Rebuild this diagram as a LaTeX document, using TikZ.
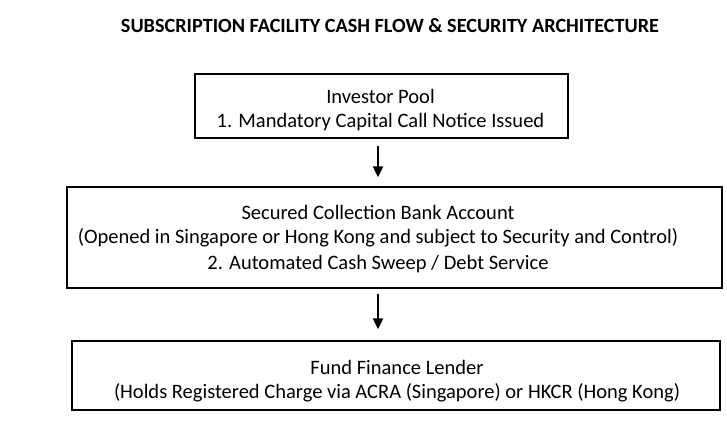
\documentclass[tikz,border=0pt]{standalone}
\usepackage{fontspec}
\setmainfont{Carlito}
\usetikzlibrary{arrows.meta}
\begin{document}
\begin{tikzpicture}[x=1pt,y=-1pt,
  frame/.style={draw,line width=1.3pt,inner sep=0pt},
  txt/.style={align=center,inner sep=0pt,font=\fontsize{20.5}{24.5}\selectfont},
  flow/.style={line width=2pt,-{Triangle[length=11pt,width=10pt]},
    shorten <=7pt,shorten >=9pt}]
\useasboundingbox (0,0) rectangle (727,424);
\node[font=\fontsize{20.2}{24}\selectfont\bfseries] (title) at (390,26)
  {SUBSCRIPTION FACILITY CASH FLOW \& SECURITY ARCHITECTURE};
% boxes
\node[frame,minimum width=373pt,minimum height=64pt] (invbox) at (381.5,106) {};
\node[frame,minimum width=655pt,minimum height=101pt] (acctbox) at (394.5,237.5) {};
\node[frame,minimum width=648pt,minimum height=69pt] (lenderbox) at (396,375.5) {};
% texts
\node[txt] (inv) at (380.5,110) {Investor Pool\\1. Mandatory Capital Call Notice Issued};
\node[txt] (acct) at (378,239)
  {Secured Collection Bank Account\\
   (Opened in Singapore or Hong Kong and subject to Security and Control)\\[1pt]
   2. Automated Cash Sweep / Debt Service};
\node[txt] (lender) at (397,381)
  {Fund Finance Lender\\
   (Holds Registered Charge via ACRA (Singapore) or HKCR (Hong Kong)};
% arrows
\coordinate (ax) at (378,0);
\draw[flow] (invbox.south -| ax) -- (acctbox.north -| ax);
\draw[flow,shorten <=5pt,shorten >=11pt] (acctbox.south -| ax) -- (lenderbox.north -| ax);
\end{tikzpicture}
\end{document}
